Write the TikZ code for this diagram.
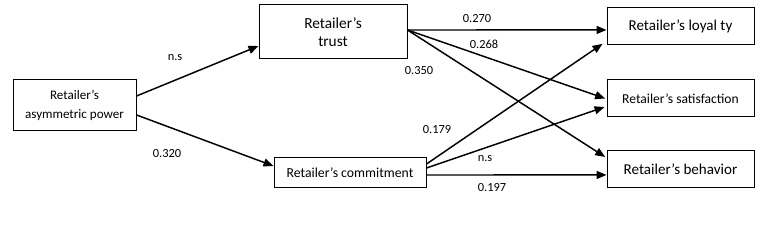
\documentclass[tikz,border=0pt]{standalone}
\usepackage{fontspec}
\setmainfont{Carlito}
\usetikzlibrary{arrows.meta}
\tikzset{
  box/.style={draw, line width=0.75pt, align=center, inner sep=1pt},
  path/.style={line width=1.1pt, -{Triangle[length=7.5pt, width=6pt]}},
  coef/.style={font=\fontsize{9.3}{11}\selectfont},
}
\begin{document}
\begin{tikzpicture}[x=0.75pt, y=-0.75pt]
  \useasboundingbox (0,0) rectangle (765,227);
  % 1. constructs
  \node[box, minimum width=92.25pt, minimum height=38.25pt, font=\fontsize{9.8}{14}\selectfont] (power) at (74.5,105.5) {Retailer’s\\asymmetric power};
  \node[box, minimum width=111pt, minimum height=40.5pt, font=\fontsize{11.5}{14}\selectfont] (trust) at (333,32) {Retailer’s\\trust};
  \node[box, minimum width=114pt, minimum height=22.5pt, font=\fontsize{10.3}{12}\selectfont] (commit) at (350,173) {Retailer’s commitment};
  \node[box, minimum width=110.25pt, minimum height=27.75pt, font=\fontsize{11.3}{13}\selectfont] (loyalty) at (680.5,26.5) {Retailer’s loyal ty};
  \node[box, minimum width=110.25pt, minimum height=27.75pt, font=\fontsize{10.2}{12}\selectfont] (satisf) at (680.5,98.5) {Retailer’s satisfaction};
  \node[box, minimum width=110.25pt, minimum height=27.75pt, font=\fontsize{11.3}{13}\selectfont] (behav) at (680.5,169.5) {Retailer’s behavior};

  % 2. paths
  \draw[path] ([yshift=7.1pt]power.east) -- ([yshift=-10.5pt]trust.west);
  \draw[path] ([yshift=-7.1pt]power.east) -- ([yshift=5.25pt]commit.west);
  \draw[path] ([yshift=1.5pt]trust.east) -- ([yshift=-2.6pt]loyalty.west);
  \draw[path] ([yshift=1.5pt]trust.east) -- ([xshift=-1pt]satisf.west);
  \draw[path] ([yshift=1.5pt]trust.east) -- ([xshift=-1pt, yshift=9.4pt]behav.west);
  \draw[path] ([yshift=6.75pt]commit.east) -- ([xshift=-3pt, yshift=-13pt]loyalty.west);
  \draw[path] ([yshift=3.75pt]commit.east) -- ([xshift=-1.5pt, yshift=-6.4pt]satisf.west);
  \draw[path] ([yshift=-1.5pt]commit.east) -- ([yshift=-4.1pt]behav.west);

  % 3. coefficients
  \node[coef] (c1) at (175,58) {n.s};
  \node[coef] (c2) at (167,154) {0.320};
  \node[coef] (c3) at (477,19) {0.270};
  \node[coef] (c4) at (484,44) {0.268};
  \node[coef] (c5) at (419,71) {0.350};
  \node[coef] (c6) at (437,130) {0.179};
  \node[coef] (c7) at (485,159) {n.s};
  \node[coef] (c8) at (492,188) {0.197};
\end{tikzpicture}
\end{document}
